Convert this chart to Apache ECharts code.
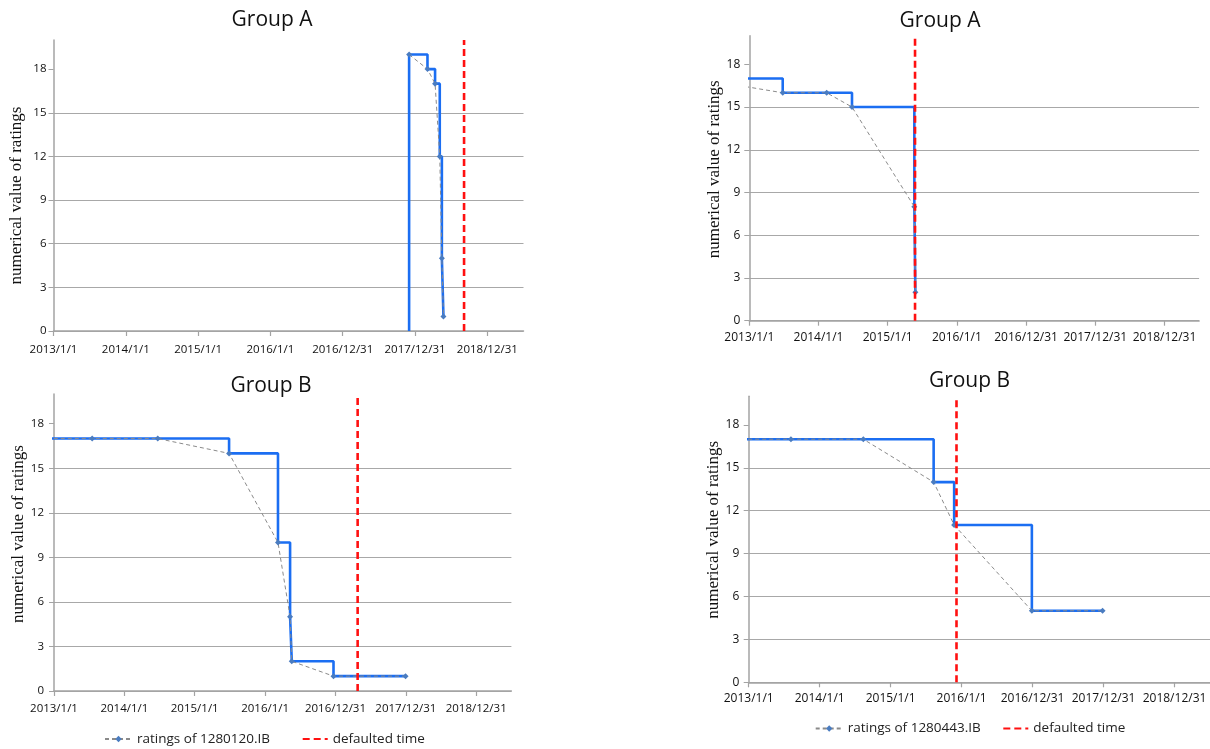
<!DOCTYPE html>
<html>
<head>
<meta charset="utf-8">
<script src="https://cdn.jsdelivr.net/npm/echarts@6/dist/echarts.min.js"></script>
<style>
  html, body { margin: 0; padding: 0; background: #fff; }
  #chart { width: 1210px; height: 749px; }
</style>
</head>
<body>
<div id="chart"></div>
<script>
// ---------- data (x in years since 2013/1/1) ----------
const xTickLabels = ['2013/1/1', '2014/1/1', '2015/1/1', '2016/1/1', '2016/12/31', '2017/12/31', '2018/12/31'];
const xTickValues = [0, 1, 2, 3, 4, 5, 6];
const yTickValues = [0, 3, 6, 9, 12, 15, 18];

const panelTitles = ['Group A', 'Group A', 'Group B', 'Group B'];
const seriesNames = ['ratings of 1280120.IB', 'ratings of 1280443.IB', 'ratings of 1280120.IB', 'ratings of 1280443.IB'];
const defaultName = 'defaulted time';

// top-left
const tlStepStart = [[4.918, 0]];
const tlRatings = [[4.918, 19], [5.172, 18], [5.277, 17], [5.342, 12], [5.371, 5], [5.393, 1]];
const tlDefault = 5.678;
// top-right (first point lies before the axis start)
const trStepStart = [];
const trRatings = [[-0.756, 17], [0.483, 16], [1.118, 16], [1.484, 15], [2.385, 8], [2.40, 2]];
const trDefault = 2.395;
// bottom-left
const blStepStart = [];
const blRatings = [[-0.6, 17], [0.543, 17], [1.474, 17], [2.488, 16], [3.183, 10], [3.355, 5], [3.379, 2], [3.972, 1], [4.996, 1]];
const blDefault = 4.315;
// bottom-right
const brStepStart = [];
const brRatings = [[-0.5, 17], [0.595, 17], [1.615, 17], [2.606, 14], [2.895, 11], [3.99, 5], [4.986, 5]];
const brDefault = 2.928;

const xMin = 0, xMax = 6.5, yMin = 0, yMax = 20;

const ratingsList = [tlRatings, trRatings, blRatings, brRatings];
const stepStarts = [tlStepStart, trStepStart, blStepStart, brStepStart];
const defaults = [tlDefault, trDefault, blDefault, brDefault];

// ---------- layout / style ----------
const layouts = [
  { grid: { left: 53.5, top: 40, width: 470, height: 291 }, title: [272, 20], font: 11.5, xMargin: 13, yMargin: 7, nameGap: 28, namePad: [0, 20, 0, 0] },
  { grid: { left: 749.3, top: 35.8, width: 449.8, height: 284.9 }, title: [940, 21], font: 12, xMargin: 11, yMargin: 9, nameGap: 20, namePad: [0, 0, 0, 18] },
  { grid: { left: 54, top: 394, width: 457.4, height: 297 }, title: [271, 386], font: 11.5, xMargin: 12, yMargin: 10, nameGap: 18, namePad: [0, 0, 0, 17] },
  { grid: { left: 748.7, top: 396.3, width: 465.4, height: 286 }, title: [969.5, 381], font: 12, xMargin: 10.5, yMargin: 9.4, nameGap: 19.5, namePad: [0, 0, 0, 19] }
];

const axisColor = '#a3a3a3';
const gridColor = '#a8a8a8';
const labelColor = '#111';
const sans = '"Open Sans", "Liberation Sans", sans-serif';

const grids = [], xAxes = [], yAxes = [], titles = [], series = [];
layouts.forEach((L, i) => {
  grids.push(Object.assign({ containLabel: false }, L.grid));
  titles.push({
    text: panelTitles[i], left: L.title[0], top: L.title[1], textAlign: 'center', textVerticalAlign: 'middle',
    padding: 0, textStyle: { fontFamily: sans, fontSize: 21, fontWeight: 'normal', color: '#111' }
  });
  xAxes.push({
    type: 'value', gridIndex: i, min: xMin, max: xMax, interval: 1,
    axisLine: { show: true, lineStyle: { color: axisColor, width: 1.5 } },
    axisTick: { show: true, inside: false, length: 5, customValues: xTickValues, lineStyle: { color: axisColor, width: 1.2 } },
    axisLabel: { customValues: xTickValues, margin: L.xMargin, fontFamily: sans, fontSize: L.font, color: labelColor,
      formatter: v => xTickLabels[xTickValues.indexOf(Math.round(v))] || '' },
    splitLine: { show: false }
  });
  yAxes.push({
    type: 'value', gridIndex: i, min: yMin, max: yMax, interval: 3,
    name: 'numerical value of ratings', nameLocation: 'middle', nameRotate: 90, nameGap: L.nameGap,
    nameTextStyle: { fontFamily: '"Liberation Serif", "Times New Roman", serif', fontSize: 17, color: '#111', padding: L.namePad },
    axisLine: { show: true, lineStyle: { color: axisColor, width: 1.5 } },
    axisTick: { show: true, length: 5, customValues: yTickValues, lineStyle: { color: axisColor, width: 1 } },
    axisLabel: { customValues: yTickValues, margin: L.yMargin, fontFamily: sans, fontSize: L.font, color: labelColor },
    splitLine: { show: true, showMaxLine: false, lineStyle: { color: gridColor, width: 1 } }
  });

  const ratings = ratingsList[i];
  series.push({
    name: 'step' + i, type: 'line', step: 'end', xAxisIndex: i, yAxisIndex: i,
    data: stepStarts[i].concat(ratings), symbol: 'none', clip: true, z: 2,
    lineStyle: { color: '#1b6ef2', width: 2.6 }, itemStyle: { color: '#1b6ef2' }, silent: true
  });
  series.push({
    name: seriesNames[i], type: 'line', xAxisIndex: i, yAxisIndex: i,
    data: ratings, symbol: 'diamond', symbolSize: 6, clip: true, z: 3,
    lineStyle: { color: '#8a8a8a', width: 1, type: [4, 3] }, itemStyle: { color: '#4a7cc0' }
  });
  series.push({
    name: defaultName, type: 'line', xAxisIndex: i, yAxisIndex: i,
    data: [[defaults[i], yMin], [defaults[i], yMax]], symbol: 'none', clip: true, z: 4,
    lineStyle: { color: '#ff1010', width: 2.6, type: [7, 4] }, itemStyle: { color: '#ff1010' }
  });
});

const legendText = { fontFamily: sans, fontSize: 13.5, color: '#222' };
const mkLegend = (name, left, top, hideSymbol) => {
  const lg = {
    data: [name], left: left, top: top, padding: 0, itemWidth: hideSymbol ? 25 : 27, itemHeight: 8, itemGap: 0,
    textStyle: legendText, selectedMode: false
  };
  if (hideSymbol) lg.itemStyle = { opacity: 0 };
  return lg;
};
const legends = [
  mkLegend(seriesNames[2], 104, 732, false),
  mkLegend(defaultName, 301.7, 732, true),
  mkLegend(seriesNames[3], 814.7, 721.5, false),
  mkLegend(defaultName, 1002.3, 721.5, true)
];

const chart = echarts.init(document.getElementById('chart'), null, { renderer: 'canvas' });
chart.setOption({
  animation: false,
  backgroundColor: '#fff',
  title: titles,
  grid: grids,
  xAxis: xAxes,
  yAxis: yAxes,
  legend: legends,
  series: series
});
</script>
</body>
</html>
